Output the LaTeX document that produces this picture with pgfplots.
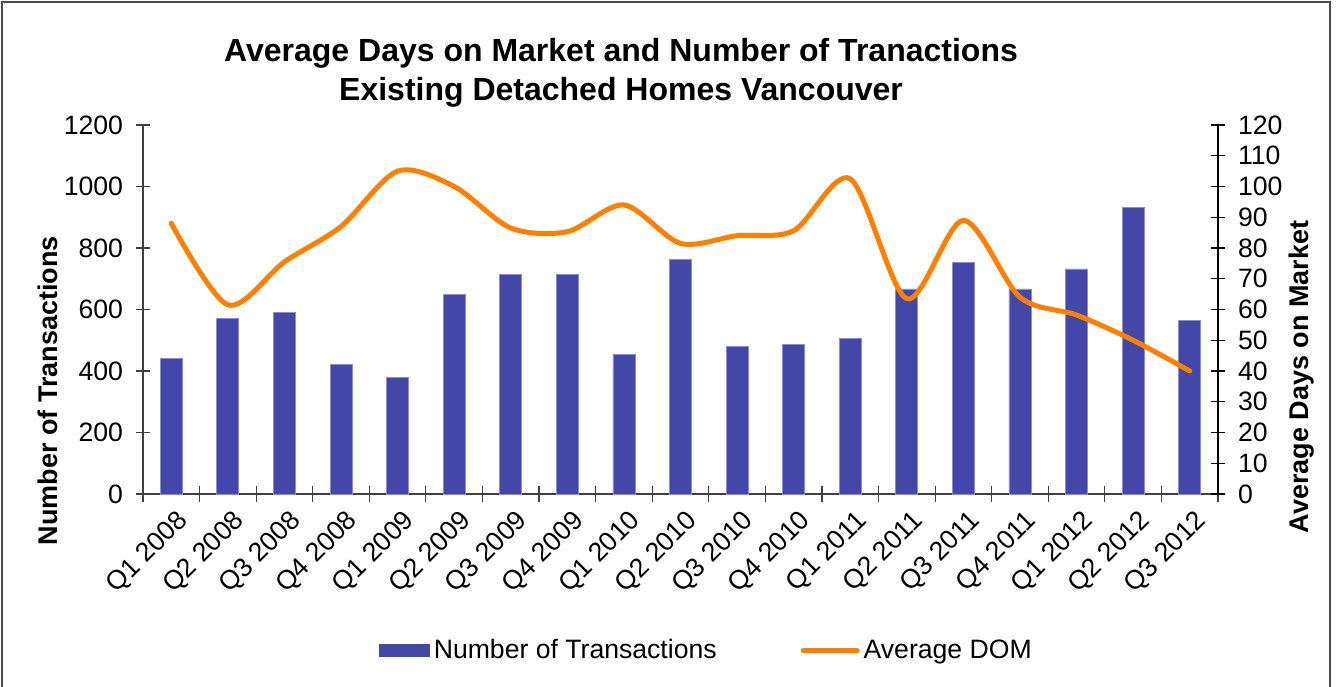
\documentclass[border=0pt]{standalone}
\usepackage{pgfplots}
\pgfplotsset{compat=1.18}
\usepackage{fontspec}
\setmainfont{Liberation Sans}
\definecolor{barblue}{HTML}{4348A8}
\definecolor{baredge}{HTML}{8A8ED0}
\definecolor{domorange}{HTML}{FF8000}
\begin{document}
\begin{tikzpicture}
\begin{axis}[
  scale only axis, width=537.5pt, height=184.5pt,
  xmin=-0.5, xmax=18.5, ymin=0, ymax=1200,
  axis y line*=left, axis x line*=bottom,
  axis line style={black!75, line width=0.6pt},
  ytick={0,200,...,1200},
  xtick={0,...,18},
  xticklabels={Q1 2008,Q2 2008,Q3 2008,Q4 2008,Q1 2009,Q2 2009,Q3 2009,Q4 2009,Q1 2010,Q2 2010,Q3 2010,Q4 2010,Q1 2011,Q2 2011,Q3 2011,Q4 2011,Q1 2012,Q2 2012,Q3 2012},
  x tick label style={rotate=45, anchor=north east, inner sep=1pt, yshift=-3pt},
  y tick label style={xshift=-3pt},
  minor xtick={-0.5,0.5,...,18.5},
  tick align=center,
  major tick length=7pt, minor tick length=8pt,
  every tick/.style={black!75, line width=0.6pt},
  x tick style={draw=none},
  minor x tick style={draw=black!75, line width=0.6pt},
  /pgf/number format/1000 sep={},
  /pgf/number format/assume math mode=true,
  tick label style={font=\fontsize{13.3}{16}\selectfont},
  ylabel={Number of Transactions},
  ylabel style={at={(ticklabel cs:0.28,-2.5pt)}, font=\fontsize{13.5}{16}\selectfont\bfseries, inner sep=2pt},
  title={Average Days on Market and Number of Tranactions\\Existing Detached Homes Vancouver},
  title style={at={(rel axis cs:0.4447,1)}, anchor=south, yshift=-0.5pt, align=center, font=\fontsize{16}{19.5}\selectfont\bfseries},
]
\addplot[ybar, bar width=11pt, fill=barblue, draw=baredge, line width=0.4pt] coordinates {
(0,441) (1,571) (2,591) (3,420) (4,379) (5,649) (6,713) (7,714) (8,455) (9,762)
(10,480) (11,487) (12,505) (13,667) (14,752) (15,667) (16,732) (17,931) (18,564)};
\end{axis}
\begin{axis}[
  scale only axis, width=537.5pt, height=184.5pt,
  xmin=-0.5, xmax=18.5, ymin=0, ymax=120,
  axis y line*=right, axis x line=none,
  axis line style={black, line width=0.6pt},
  xtick=\empty,
  ytick={0,10,...,120},
  y tick label style={xshift=3pt},
  tick align=center, major tick length=7pt,
  every tick/.style={black, line width=0.6pt},
  /pgf/number format/assume math mode=true,
  tick label style={font=\fontsize{13.3}{16}\selectfont},
  ylabel={Average Days on Market},
  ylabel style={at={(ticklabel cs:0.317,-2.5pt)}, font=\fontsize{13.5}{16}\selectfont\bfseries, inner sep=2pt},
  legend style={at={(0.525,-0.425)}, anchor=center, draw=none, fill=none,
    legend columns=2, font=\fontsize{13.3}{16}\selectfont,
    /tikz/every even column/.append style={column sep=40pt},
    legend cell align=left},
]
\addlegendimage{legend image code/.code={\fill[barblue] (0pt,-3pt) rectangle (25pt,3pt);}}
\addlegendentry{Number of Transactions}
\addplot[domorange, line width=2.5pt, smooth, line cap=round,
  legend image code/.code={\draw[domorange, line width=2.5pt] (1pt,0pt) -- (28pt,0pt);}] coordinates {
(0,88) (1,61.5) (2,75.5) (3,87) (4,105) (5,100) (6,86.5) (7,85.3) (8,94) (9,81.5)
(10,84) (11,85.6) (12,102.5) (13,63.5) (14,89) (15,64) (16,58.2) (17,50) (18,40)};
\addlegendentry{Average DOM}
\end{axis}
\draw[black!70, line width=0.6pt] (-70.5pt,-100pt) -- (-70.5pt,246pt) -- (593.5pt,246pt) -- (593.5pt,-100pt);
\pgfresetboundingbox
\path (-71.5pt,-96pt) rectangle (597pt,247pt);
\end{tikzpicture}
\end{document}
